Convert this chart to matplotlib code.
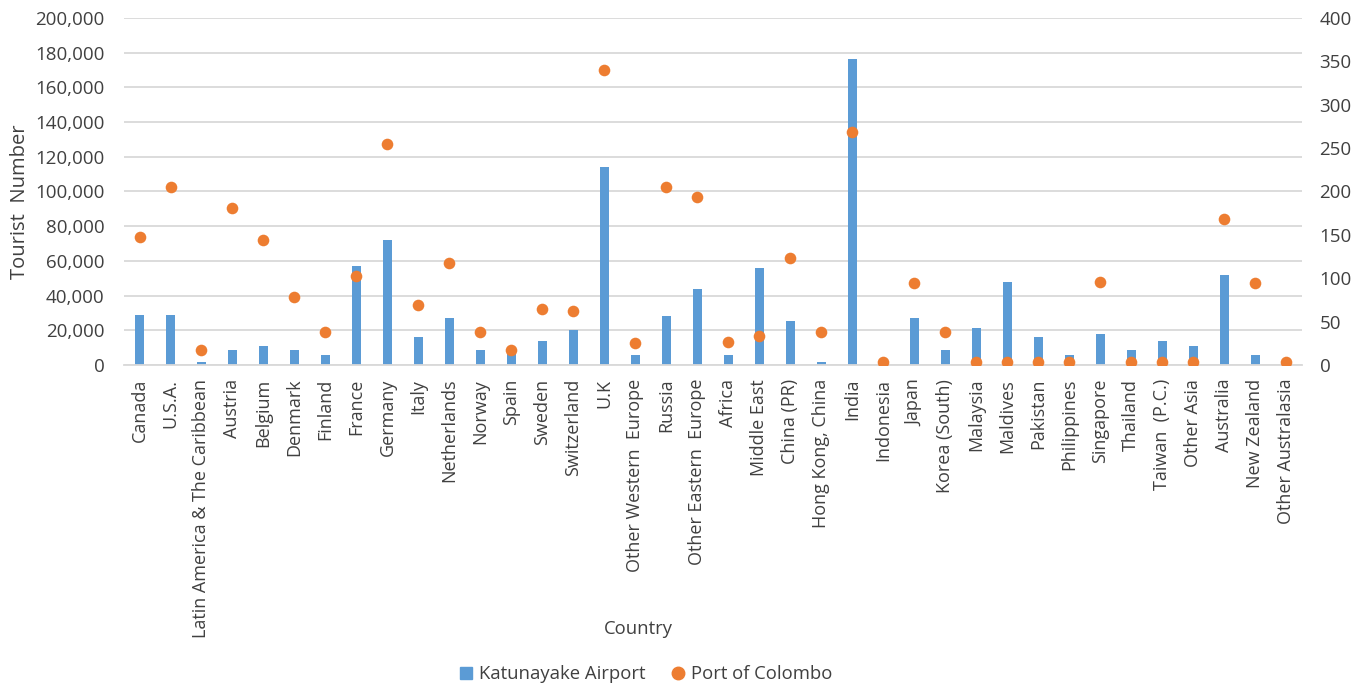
import numpy as np
import matplotlib
matplotlib.use("Agg")
import matplotlib.pyplot as plt
from matplotlib.ticker import FuncFormatter
from matplotlib.lines import Line2D

plt.rcParams["font.family"] = ["Open Sans", "DejaVu Sans"]

countries = ["Canada", "U.S.A.", "Latin America & The Caribbean", "Austria", "Belgium",
             "Denmark", "Finland", "France", "Germany", "Italy", "Netherlands", "Norway",
             "Spain", "Sweden", "Switzerland", "U.K", "Other Western  Europe", "Russia",
             "Other Eastern  Europe", "Africa", "Middle East", "China (PR)", "Hong Kong, China",
             "India", "Indonesia", "Japan", "Korea (South)", "Malaysia", "Maldives", "Pakistan",
             "Philippines", "Singapore", "Thailand", "Taiwan  (P.C.)", "Other Asia", "Australia",
             "New Zealand", "Other Australasia"]

airport = [29000, 29000, 1700, 8400, 10900, 8400, 5700, 57000, 72000, 16300, 26800, 8400,
           7800, 13600, 20000, 114000, 5700, 28000, 44000, 5700, 55800, 25500, 1700,
           176500, 2800, 26800, 8400, 21500, 48000, 16300, 5700, 17600, 8400, 13600,
           10900, 52000, 5700, 300]

colombo = [147, 205, 17, 181, 144, 78, 38, 102, 255, 69, 117, 38, 17, 64, 62, 340, 25,
           205, 194, 27, 33, 123, 38, 268, 3, 94, 38, 3, 3, 3, 3, 96, 3, 3, 3, 168, 94, 3]

BLUE = "#5B9BD5"
ORANGE = "#ED7D31"
GRID = "#D9D9D9"
TXT = "#404040"

fig = plt.figure(figsize=(13.66, 6.86), dpi=100)
ax = fig.add_axes([0.0908, 0.468, 0.862, 0.506])
ax2 = ax.twinx()

x = np.arange(len(countries))
ax.bar(x, airport, 0.29, color=BLUE, zorder=2)
ax2.scatter(x, colombo, s=70, color=ORANGE, zorder=3, linewidths=0)

ax.set_xlim(-0.5, len(countries) - 0.5)
ax.set_ylim(0, 200000)
ax.set_yticks(np.arange(0, 200001, 20000))
ax.yaxis.set_major_formatter(FuncFormatter(lambda v, p: f"{int(v):,}"))
ax2.set_ylim(0, 400)
ax2.set_yticks(np.arange(0, 401, 50))

ax.set_axisbelow(True)
ax.grid(axis="y", color=GRID, linewidth=1.3, zorder=0)
for a in (ax, ax2):
    for s in a.spines.values():
        s.set_visible(False)
ax.spines["bottom"].set_visible(True)
ax.spines["bottom"].set_color(GRID)
ax.spines["bottom"].set_linewidth(1.3)

ax.set_xticks(x)
ax.set_xticklabels(countries, rotation=90, fontsize=13, color=TXT)
ax.tick_params(axis="x", length=0, pad=10)
ax.tick_params(axis="y", length=0, pad=14, labelsize=13.5, labelcolor=TXT)
ax2.tick_params(axis="y", length=0, pad=13, labelsize=13.5, labelcolor=TXT)

ax.set_ylabel("Tourist  Number", fontsize=14.5, color=TXT)
ax.yaxis.set_label_coords(-0.08, 0.47)
fig.text(0.467, 0.083, "Country", fontsize=13.3, color=TXT, ha="center", va="center")

handles = [Line2D([], [], marker="s", linestyle="none", color=BLUE, markersize=8),
           Line2D([], [], marker="o", linestyle="none", color=ORANGE, markersize=9)]
fig.legend(handles, ["Katunayake Airport", "Port of Colombo"], loc="center",
           bbox_to_anchor=(0.4718, 0.017), ncol=2, frameon=False, fontsize=13.3,
           handlelength=1.0, handletextpad=0.2, columnspacing=1.3, labelcolor=TXT)

fig.savefig("out.png", dpi=100)
